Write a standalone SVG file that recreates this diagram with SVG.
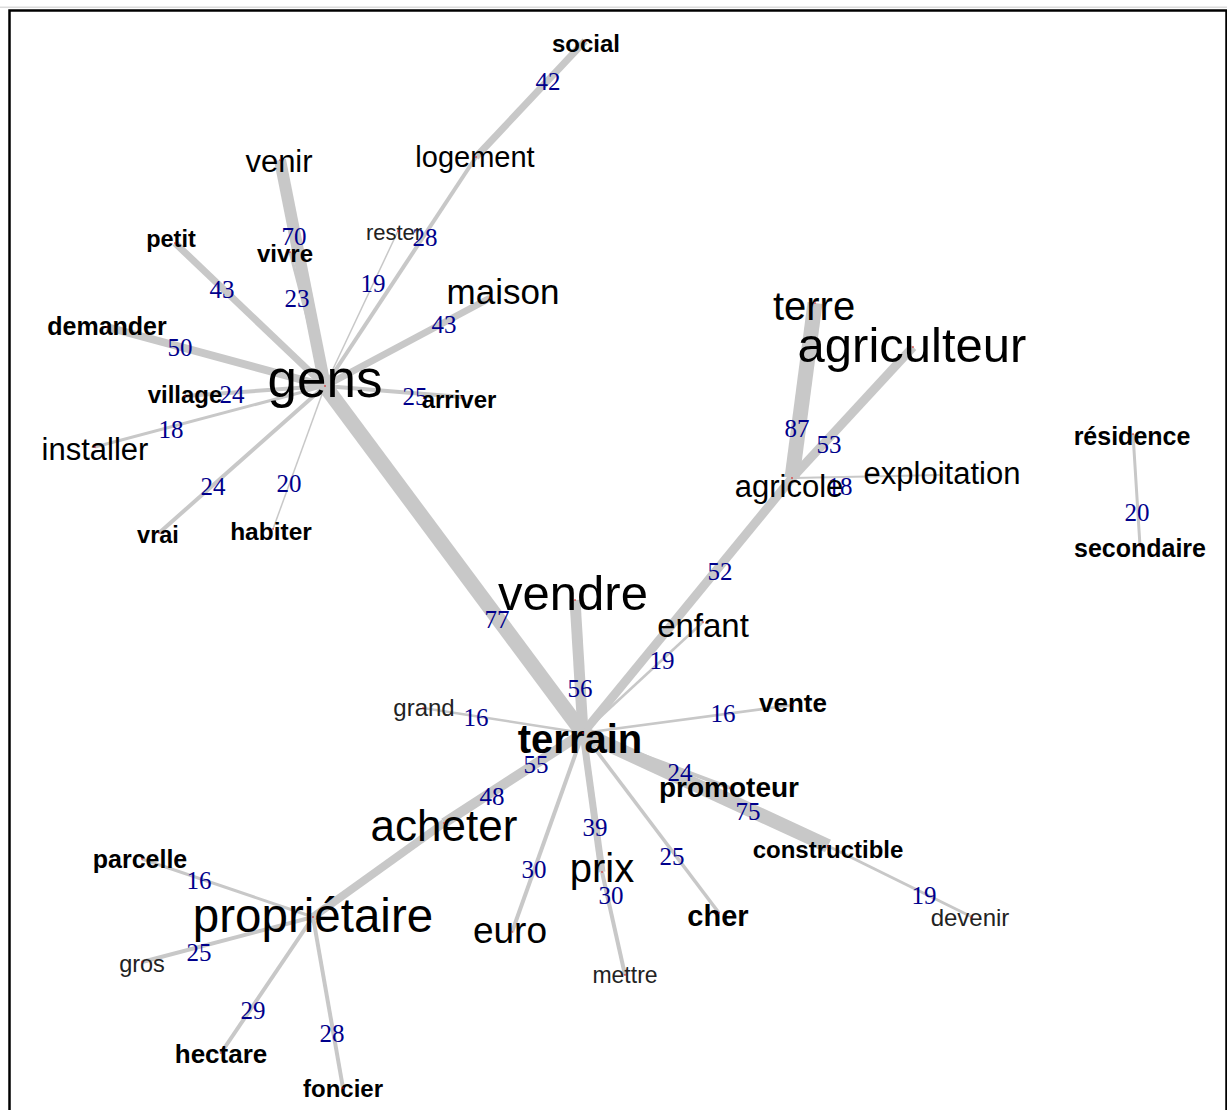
<svg xmlns="http://www.w3.org/2000/svg" width="1227" height="1110" viewBox="0 0 1227 1110">
<style>
.e{stroke:#c8c8c8;stroke-linecap:butt;fill:none}
.w{font-family:"Liberation Sans",Arial,sans-serif;fill:#000;text-anchor:middle}
.b{font-weight:bold}
.l{fill:#222}
.n{font-family:"Liberation Serif","Times New Roman",serif;font-size:25px;fill:#00008B;text-anchor:middle}
.d{fill:#e00000}
</style>
<rect x="0" y="6.5" width="1227" height="1.5" fill="#dcdcdc"/>
<rect x="9.5" y="10.5" width="1217" height="1200" fill="#fff" stroke="#000" stroke-width="2.5"/>
<g id="connectors">
<line class="e" x1="280" y1="160" x2="325" y2="386" stroke-width="12"/>
<line class="e" x1="290" y1="252" x2="325" y2="386" stroke-width="3"/>
<line class="e" x1="175" y1="243" x2="325" y2="386" stroke-width="7"/>
<line class="e" x1="107" y1="327" x2="325" y2="386" stroke-width="8"/>
<line class="e" x1="185" y1="396" x2="325" y2="386" stroke-width="4"/>
<line class="e" x1="95" y1="447" x2="325" y2="386" stroke-width="3"/>
<line class="e" x1="159" y1="533" x2="325" y2="386" stroke-width="4"/>
<line class="e" x1="273" y1="529" x2="325" y2="386" stroke-width="1.5"/>
<line class="e" x1="398" y1="231" x2="325" y2="386" stroke-width="1.5"/>
<line class="e" x1="476" y1="157" x2="325" y2="386" stroke-width="4"/>
<line class="e" x1="585" y1="41" x2="476" y2="157" stroke-width="7"/>
<line class="e" x1="490" y1="298" x2="325" y2="386" stroke-width="7"/>
<line class="e" x1="462" y1="397" x2="325" y2="386" stroke-width="4"/>
<line class="e" x1="325" y1="386" x2="583" y2="733" stroke-width="15"/>
<line class="e" x1="815" y1="303" x2="792" y2="478" stroke-width="15"/>
<line class="e" x1="913" y1="347" x2="792" y2="478" stroke-width="9"/>
<line class="e" x1="942" y1="475" x2="792" y2="478" stroke-width="2"/>
<line class="e" x1="792" y1="478" x2="583" y2="733" stroke-width="9"/>
<line class="e" x1="703" y1="622" x2="583" y2="733" stroke-width="2.5"/>
<line class="e" x1="575" y1="600" x2="583" y2="733" stroke-width="11"/>
<line class="e" x1="423" y1="708" x2="583" y2="733" stroke-width="2.5"/>
<line class="e" x1="793" y1="705" x2="583" y2="733" stroke-width="2.5"/>
<line class="e" x1="730" y1="788" x2="583" y2="733" stroke-width="4"/>
<line class="e" x1="828" y1="846" x2="583" y2="733" stroke-width="14"/>
<line class="e" x1="828" y1="846" x2="972" y2="917" stroke-width="3"/>
<line class="e" x1="719" y1="913" x2="583" y2="733" stroke-width="3.5"/>
<line class="e" x1="602" y1="872" x2="583" y2="733" stroke-width="7"/>
<line class="e" x1="602" y1="872" x2="625" y2="975" stroke-width="4"/>
<line class="e" x1="512" y1="932" x2="583" y2="733" stroke-width="4"/>
<line class="e" x1="444" y1="823" x2="583" y2="733" stroke-width="10"/>
<line class="e" x1="313" y1="917" x2="444" y2="823" stroke-width="8"/>
<line class="e" x1="142" y1="859" x2="313" y2="917" stroke-width="3"/>
<line class="e" x1="142" y1="962" x2="313" y2="917" stroke-width="4"/>
<line class="e" x1="221" y1="1053" x2="313" y2="917" stroke-width="4"/>
<line class="e" x1="343" y1="1088" x2="313" y2="917" stroke-width="4"/>
<line class="e" x1="1133" y1="434" x2="1140" y2="546" stroke-width="3"/>
<text class="n" x="548" y="90">42</text>
<text class="n" x="425" y="246">28</text>
<text class="n" x="373" y="292">19</text>
<text class="n" x="294" y="245">70</text>
<text class="n" x="222" y="298">43</text>
<text class="n" x="297" y="307">23</text>
<text class="n" x="180" y="356">50</text>
<text class="n" x="232" y="403">24</text>
<text class="n" x="171" y="438">18</text>
<text class="n" x="213" y="495">24</text>
<text class="n" x="289" y="492">20</text>
<text class="n" x="444" y="333">43</text>
<text class="n" x="415" y="405">25</text>
<text class="n" x="797" y="437">87</text>
<text class="n" x="829" y="453">53</text>
<text class="n" x="840" y="495">18</text>
<text class="n" x="720" y="580">52</text>
<text class="n" x="497" y="628">77</text>
<text class="n" x="580" y="697">56</text>
<text class="n" x="662" y="669">19</text>
<text class="n" x="476" y="726">16</text>
<text class="n" x="723" y="722">16</text>
<text class="n" x="536" y="773">55</text>
<text class="n" x="492" y="805">48</text>
<text class="n" x="595" y="836">39</text>
<text class="n" x="534" y="878">30</text>
<text class="n" x="611" y="904">30</text>
<text class="n" x="672" y="865">25</text>
<text class="n" x="680" y="781">24</text>
<text class="n" x="748" y="820">75</text>
<text class="n" x="924" y="904">19</text>
<text class="n" x="199" y="889">16</text>
<text class="n" x="199" y="961">25</text>
<text class="n" x="253" y="1019">29</text>
<text class="n" x="332" y="1042">28</text>
<text class="n" x="1137" y="521">20</text>
</g>
<g id="n-social"><text class="w b" x="586" y="52" font-size="24">social</text><circle class="d" cx="585" cy="41" r="0.8"/></g>
<g id="n-logement"><text class="w" x="475" y="167" font-size="29">logement</text><circle class="d" cx="476" cy="157" r="0.8"/></g>
<g id="n-venir"><text class="w" x="279" y="172" font-size="31">venir</text><circle class="d" cx="280" cy="160" r="0.8"/></g>
<g id="n-petit"><text class="w b" x="171" y="247" font-size="23.5">petit</text><circle class="d" cx="175" cy="243" r="0.8"/></g>
<g id="n-vivre"><text class="w b" x="285" y="262" font-size="24">vivre</text><circle class="d" cx="290" cy="252" r="0.8"/></g>
<g id="n-rester"><text class="w l" x="394" y="240" font-size="22">rester</text><circle class="d" cx="398" cy="231" r="0.8"/></g>
<g id="n-maison"><text class="w" x="503" y="304" font-size="35">maison</text><circle class="d" cx="490" cy="298" r="0.8"/></g>
<g id="n-demander"><text class="w b" x="107" y="335" font-size="25">demander</text><circle class="d" cx="107" cy="327" r="0.8"/></g>
<g id="n-gens"><text class="w" x="325" y="397" font-size="53">gens</text><circle class="d" cx="325" cy="386" r="0.8"/></g>
<g id="n-village"><text class="w b" x="185" y="403" font-size="24">village</text><circle class="d" cx="185" cy="396" r="0.8"/></g>
<g id="n-arriver"><text class="w b" x="459" y="408" font-size="24">arriver</text><circle class="d" cx="462" cy="397" r="0.8"/></g>
<g id="n-installer"><text class="w" x="95" y="460" font-size="31">installer</text><circle class="d" cx="95" cy="447" r="0.8"/></g>
<g id="n-vrai"><text class="w b" x="158" y="543" font-size="23.5">vrai</text><circle class="d" cx="159" cy="533" r="0.8"/></g>
<g id="n-habiter"><text class="w b" x="271" y="540" font-size="24.5">habiter</text><circle class="d" cx="273" cy="529" r="0.8"/></g>
<g id="n-terre"><text class="w" x="814" y="320" font-size="40">terre</text><circle class="d" cx="815" cy="303" r="0.8"/></g>
<g id="n-agriculteur"><text class="w" x="912" y="362" font-size="49">agriculteur</text><circle class="d" cx="913" cy="347" r="0.8"/></g>
<g id="n-agricole"><text class="w" x="789" y="497" font-size="31">agricole</text><circle class="d" cx="792" cy="478" r="0.8"/></g>
<g id="n-exploitation"><text class="w" x="942" y="484" font-size="31">exploitation</text><circle class="d" cx="942" cy="475" r="0.8"/></g>
<g id="n-residence"><text class="w b" x="1132" y="445" font-size="25">résidence</text><circle class="d" cx="1133" cy="434" r="0.8"/></g>
<g id="n-secondaire"><text class="w b" x="1140" y="557" font-size="25">secondaire</text><circle class="d" cx="1140" cy="546" r="0.8"/></g>
<g id="n-vendre"><text class="w" x="573" y="610" font-size="49">vendre</text><circle class="d" cx="575" cy="600" r="0.8"/></g>
<g id="n-enfant"><text class="w" x="703" y="637" font-size="33">enfant</text><circle class="d" cx="703" cy="622" r="0.8"/></g>
<g id="n-grand"><text class="w l" x="424" y="716" font-size="24">grand</text><circle class="d" cx="423" cy="708" r="0.8"/></g>
<g id="n-terrain"><text class="w b" x="580" y="753" font-size="40">terrain</text><circle class="d" cx="583" cy="733" r="0.8"/></g>
<g id="n-vente"><text class="w b" x="793" y="712" font-size="26">vente</text><circle class="d" cx="793" cy="705" r="0.8"/></g>
<g id="n-promoteur"><text class="w b" x="729" y="797" font-size="28">promoteur</text><circle class="d" cx="730" cy="788" r="0.8"/></g>
<g id="n-acheter"><text class="w" x="444" y="841" font-size="44">acheter</text><circle class="d" cx="444" cy="823" r="0.8"/></g>
<g id="n-constructible"><text class="w b" x="828" y="858" font-size="24">constructible</text><circle class="d" cx="828" cy="846" r="0.8"/></g>
<g id="n-prix"><text class="w" x="602" y="882" font-size="40">prix</text><circle class="d" cx="602" cy="872" r="0.8"/></g>
<g id="n-euro"><text class="w" x="510" y="943" font-size="37">euro</text><circle class="d" cx="512" cy="932" r="0.8"/></g>
<g id="n-cher"><text class="w b" x="718" y="926" font-size="29">cher</text><circle class="d" cx="719" cy="913" r="0.8"/></g>
<g id="n-devenir"><text class="w l" x="970" y="926" font-size="24">devenir</text><circle class="d" cx="972" cy="917" r="0.8"/></g>
<g id="n-mettre"><text class="w l" x="625" y="983" font-size="23">mettre</text><circle class="d" cx="625" cy="975" r="0.8"/></g>
<g id="n-parcelle"><text class="w b" x="140" y="868" font-size="25">parcelle</text><circle class="d" cx="142" cy="859" r="0.8"/></g>
<g id="n-proprietaire"><text class="w" x="313" y="932" font-size="47.5">propriétaire</text><circle class="d" cx="313" cy="917" r="0.8"/></g>
<g id="n-gros"><text class="w l" x="142" y="972" font-size="23.5">gros</text><circle class="d" cx="142" cy="962" r="0.8"/></g>
<g id="n-hectare"><text class="w b" x="221" y="1063" font-size="26">hectare</text><circle class="d" cx="221" cy="1053" r="0.8"/></g>
<g id="n-foncier"><text class="w b" x="343" y="1097" font-size="24">foncier</text><circle class="d" cx="343" cy="1088" r="0.8"/></g>
</svg>
